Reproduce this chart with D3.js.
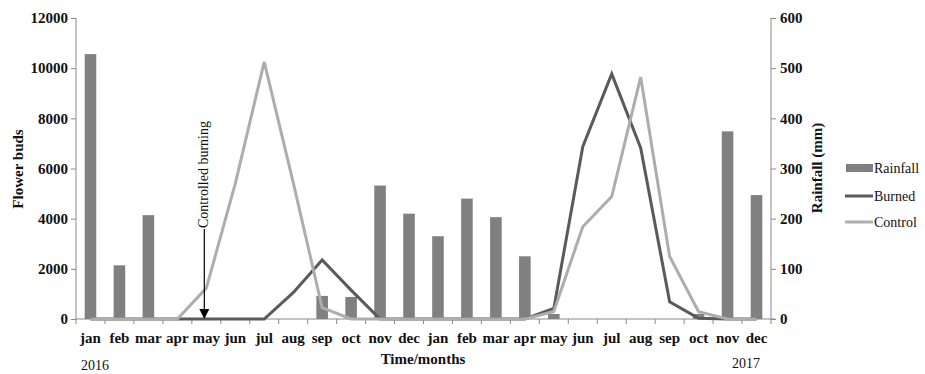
<!DOCTYPE html>
<html>
<head>
<meta charset="utf-8">
<script src="https://cdn.jsdelivr.net/npm/d3@7"></script>
<style>
  body { margin: 0; background: #fff; }
  svg text { font-family: "Liberation Serif", "Times New Roman", serif; }
</style>
</head>
<body>
<svg id="chart" width="925" height="374"></svg>
<script>
// months over two years (2016, 2017)
const months = ['jan','feb','mar','apr','may','jun','jul','aug','sep','oct','nov','dec',
                'jan','feb','mar','apr','may','jun','jul','aug','sep','oct','nov','dec'];
// rainfall (mm), right axis
const rainfall = [528, 107, 207, 0, 0, 0, 0, 0, 46, 44, 266, 210,
                  165, 240, 203, 125, 10, 0, 0, 0, 0, 10, 374, 247];
// flower buds, left axis
const burned = [0, 0, 0, 0, 0, 0, 0, 1050, 2350, 1150, 0, 0,
                0, 0, 0, 0, 420, 6870, 9770, 6820, 690, 30, 0, 0];
const control = [0, 0, 0, 0, 1230, 5400, 10250, 5450, 450, 0, 0, 0,
                 0, 0, 0, 0, 300, 3680, 4880, 9640, 2490, 290, 0, 0];
const leftTicks = [0, 2000, 4000, 6000, 8000, 10000, 12000];
const rightTicks = [0, 100, 200, 300, 400, 500, 600];
const legendItems = ['Rainfall', 'Burned', 'Control'];

const colors = { Rainfall: '#808080', Burned: '#5a5a5a', Control: '#adadad' };
const axisColor = '#8a8a8a';
const serif = 'Liberation Serif';

const svg = d3.select('#chart');
const m = { left: 76, right: 771, top: 18, bottom: 319 };
const idx = d3.range(months.length);

const x = d3.scaleBand().domain(idx).range([m.left, m.right]);
const xBar = d3.scaleBand().domain(idx).range([m.left, m.right]).paddingInner(0.6).paddingOuter(0.3);
const yL = d3.scaleLinear().domain([0, 12000]).range([m.bottom, m.top]);
const yR = d3.scaleLinear().domain([0, 600]).range([m.bottom, m.top]);

// axes
const gL = svg.append('g').attr('transform', `translate(${m.left},0)`)
  .call(d3.axisLeft(yL).tickValues(leftTicks).tickFormat(d3.format('d')).tickSize(5).tickPadding(3));
const gR = svg.append('g').attr('transform', `translate(${m.right},0)`)
  .call(d3.axisRight(yR).tickValues(rightTicks).tickFormat(d3.format('d')).tickSize(5).tickPadding(4));
[gL, gR].forEach(g => {
  g.attr('font-family', serif);
  g.select('.domain').attr('stroke', axisColor).attr('d', `M0,${m.top}V${m.bottom}`);
  g.selectAll('.tick line').attr('stroke', axisColor);
  g.selectAll('.tick text').attr('font-size', 15).attr('font-weight', 'bold').attr('fill', '#111');
});

// x axis with ticks at month boundaries
svg.append('line').attr('x1', m.left).attr('x2', m.right + 4)
  .attr('y1', m.bottom).attr('y2', m.bottom).attr('stroke', axisColor);
svg.selectAll('.xtick').data(d3.range(months.length + 1)).enter().append('line')
  .attr('x1', i => m.left + i * x.step()).attr('x2', i => m.left + i * x.step())
  .attr('y1', m.bottom).attr('y2', m.bottom + 5).attr('stroke', axisColor);
svg.selectAll('.mlabel').data(idx).enter().append('text')
  .attr('x', i => x(i) + x.bandwidth() / 2).attr('y', 343)
  .attr('text-anchor', 'middle').attr('font-family', serif).attr('font-size', 15)
  .attr('font-weight', 'bold').attr('fill', '#111').text(i => months[i]);

// rainfall bars
svg.selectAll('.bar').data(idx).enter().append('rect')
  .attr('x', i => xBar(i)).attr('width', xBar.bandwidth())
  .attr('y', i => yR(rainfall[i])).attr('height', i => m.bottom - yR(rainfall[i]))
  .attr('fill', colors.Rainfall);

// lines
const line = arr => d3.line().x(i => x(i) + x.bandwidth() / 2).y(i => yL(arr[i]))(idx);
svg.append('path').attr('d', line(burned)).attr('fill', 'none')
  .attr('stroke', colors.Burned).attr('stroke-width', 3);
svg.append('path').attr('d', line(control)).attr('fill', 'none')
  .attr('stroke', colors.Control).attr('stroke-width', 3);

// controlled burning annotation
const ax = x(4) + x.bandwidth() / 2 - 2;
svg.append('line').attr('x1', ax).attr('x2', ax).attr('y1', 229).attr('y2', 310)
  .attr('stroke', '#000').attr('stroke-width', 1.2);
svg.append('path').attr('d', `M${ax - 5},309L${ax + 5},309L${ax},319Z`).attr('fill', '#000');
svg.append('text').attr('transform', `translate(${ax + 4},228) rotate(-90)`)
  .attr('font-family', serif).attr('font-size', 14).attr('fill', '#111').text('Controlled burning');

// axis titles
const title = (t, tr, size, weight) => svg.append('text').attr('transform', tr)
  .attr('text-anchor', 'middle').attr('font-family', serif).attr('font-size', size)
  .attr('font-weight', weight).attr('fill', '#111').text(t);
title('Flower buds', 'translate(23,169) rotate(-90)', 15, 'bold');
title('Rainfall (mm)', 'translate(822,168) rotate(-90)', 15, 'bold');
title('Time/months', 'translate(423,364)', 15, 'bold');
title('2016', 'translate(95,370)', 14, 'normal');
title('2017', 'translate(746,368)', 14, 'normal');

// legend
const lg = svg.append('g');
legendItems.forEach((name, k) => {
  const cy = [168, 196, 222][k];
  if (name === 'Rainfall') {
    lg.append('rect').attr('x', 846).attr('y', cy - 4).attr('width', 27).attr('height', 8)
      .attr('fill', colors.Rainfall);
  } else {
    lg.append('line').attr('x1', 845).attr('x2', 873).attr('y1', cy).attr('y2', cy)
      .attr('stroke', colors[name]).attr('stroke-width', 3);
  }
  lg.append('text').attr('x', 874).attr('y', cy + 5).attr('font-family', serif)
    .attr('font-size', 14).attr('fill', '#111').text(name);
});
</script>
</body>
</html>
